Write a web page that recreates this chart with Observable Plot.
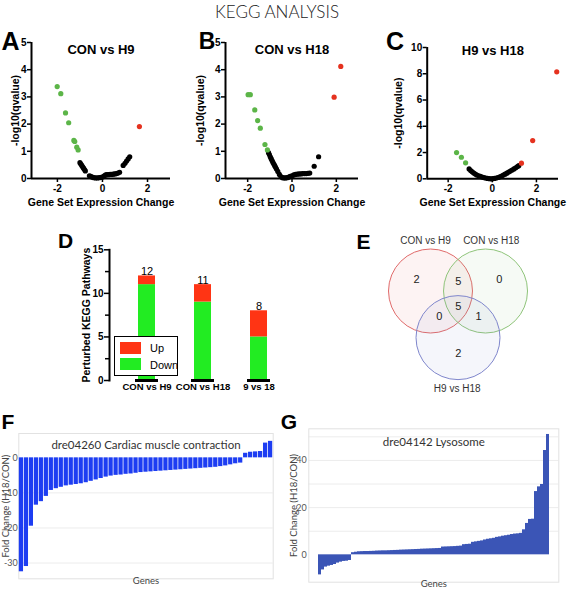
<!DOCTYPE html>
<html><head><meta charset="utf-8">
<script src="https://cdn.jsdelivr.net/npm/d3@7"></script>
<script src="https://cdn.jsdelivr.net/npm/@observablehq/plot@0.6"></script>
<style>
html,body{margin:0;padding:0;background:#fff;}
#root{position:relative;width:567px;height:591px;overflow:hidden;background:#fff;font-family:"Liberation Sans",Arial,sans-serif;}
.letter{position:absolute;font-weight:bold;line-height:1;transform:translate(-50%,-50%);color:#000;}
#title{position:absolute;left:277px;top:11px;transform:translate(-50%,-50%);font-family:Lato,"Open Sans",sans-serif;font-weight:300;font-size:17px;line-height:1;color:#222;white-space:nowrap;}
#legend{position:absolute;left:114px;top:336px;width:62px;height:38px;border:1.5px solid #000;background:#fff;font-size:11px;}
.sw{position:absolute;left:5px;width:21px;height:12px;}
.lt{position:absolute;left:35px;line-height:1;transform:translateY(-50%);}
</style></head><body><div id="root"></div>
<script>
// ---------- DATA ----------
const mainTitle = "KEGG ANALYSIS";
// Panel A: CON vs H9
const aDownX = [-2.01,-1.85,-1.64,-1.50,-1.27,-1.23,-1.14,-1.08];
const aDownY = [3.38,3.12,2.41,2.05,1.40,1.36,1.15,1.05];
const aUpX = [1.64];
const aUpY = [1.91];
const aNsX = [-1.00,-0.96,-0.92,-0.88,-0.84,-0.80,-0.76,-0.58,-0.52,-0.45,-0.38,-0.30,-0.22,-0.14,-0.06,0.02,0.08,0.14,0.20,0.27,0.34,0.41,0.48,0.55,0.62,0.69,0.76,0.92,1.00,1.07,1.14,1.21];
const aNsY = [0.58,0.53,0.48,0.43,0.38,0.33,0.28,0.10,0.08,0.05,0.03,0.02,0.02,0.03,0.04,0.06,0.10,0.13,0.14,0.14,0.15,0.15,0.16,0.17,0.18,0.20,0.23,0.48,0.56,0.64,0.72,0.80];
// Panel B: CON vs H18
const bDownX = [-1.98,-1.88,-1.68,-1.55,-1.43,-1.22,-1.11];
const bDownY = [3.08,3.08,2.52,2.13,1.85,1.25,1.05];
const bUpX = [1.90,2.20];
const bUpY = [2.99,4.12];
const bNsX = [-1.06,-1.02,-0.98,-0.94,-0.90,-0.86,-0.82,-0.78,-0.74,-0.70,-0.64,-0.57,-0.50,-0.43,-0.36,-0.29,-0.22,-0.15,-0.08,0.00,0.08,0.16,0.24,0.32,0.40,0.48,0.56,0.64,0.72,0.80,1.00,1.20];
const bNsY = [0.95,0.88,0.80,0.73,0.66,0.59,0.53,0.47,0.41,0.35,0.26,0.15,0.07,0.03,0.02,0.02,0.03,0.05,0.08,0.10,0.13,0.15,0.16,0.17,0.17,0.18,0.18,0.18,0.19,0.20,0.45,0.80];
// Panel C: H9 vs H18
const cDownX = [-1.62,-1.40,-1.21];
const cDownY = [2.00,1.64,1.22];
const cUpX = [1.32,1.83,2.92];
const cUpY = [1.19,2.91,8.15];
const cNsX = [-1.05,-0.98,-0.91,-0.84,-0.77,-0.70,-0.62,-0.54,-0.46,-0.38,-0.30,-0.22,-0.14,-0.06,0.02,0.10,0.18,0.26,0.34,0.42,0.50,0.58,0.66,0.74,0.82,0.90,0.98,1.06,1.14,1.20];
const cNsY = [0.75,0.63,0.53,0.44,0.36,0.29,0.23,0.18,0.13,0.09,0.06,0.03,0.01,0.00,0.01,0.03,0.06,0.10,0.15,0.21,0.28,0.35,0.43,0.51,0.59,0.67,0.75,0.84,0.93,1.00];
const volcanoXTicks = [-2,0,2];
// Panel D
const dCats = ["CON vs H9","CON vs H18","9 vs 18"];
const dDown = [11,9,5];
const dUp = [1,2,3];
const dTotal = [12,11,8];
const dTicks = [0,5,10,15];
const dMinorTicks = [2.5,7.5,12.5];
// Panel E (Venn)
const vennSets = ["CON vs H9","CON vs H18","H9 vs H18"];
const vennCx = [0,1.31,0.655];
const vennCy = [0,0,1.11];
const vennLabelX = [-0.119,1.445,0.636];
const vennLabelY = [-1.202,-1.202,2.321];
const vennCounts = ["2","5","0","5","0","1","2"];
const vennCountX = [-0.333,0.66,1.636,0.66,0.207,1.143,0.66];
const vennCountY = [-0.274,-0.226,-0.274,0.369,0.607,0.607,1.488];
// Panel F
const fTitle = "dre04260 Cardiac muscle contraction";
const fValues = [-32.5,-31,-19.5,-13.5,-12.5,-11,-9.3,-8.8,-8.4,-8.0,-7.8,-7.6,-7.4,-7.1,-6.7,-6.3,-5.9,-5.5,-5.2,-5.0,-4.9,-4.7,-4.6,-4.4,-4.2,-4.1,-4.0,-3.9,-3.8,-3.7,-3.6,-3.5,-3.4,-3.3,-3.2,-3.1,-3.0,-2.9,-2.8,-2.7,-2.5,-2.3,-2.0,-1.7,-1.5,1.3,1.6,1.7,1.8,4.2,4.7];
const fTicks = [0,-10,-20,-30];
// Panel G
const gTitle = "dre04142 Lysosome";
const gValues = [-8.5,-6.4,-5.2,-4.8,-4.5,-4.1,-3.5,-3.1,-2.8,-2.7,-2.4,
 0.9,1.1,1.3,1.35,1.4,1.4,1.45,1.5,1.6,1.65,1.7,1.7,1.75,1.8,1.85,1.9,
 2.0,2.05,2.1,2.15,2.2,2.25,2.3,2.4,2.45,2.5,2.55,2.6,2.65,2.7,
 3.3,3.35,3.4,3.45,3.5,3.6,3.7,4.3,4.4,4.5,5.3,5.5,5.7,5.9,6.3,6.6,6.8,7.0,
 7.4,7.6,7.9,8.1,8.3,8.6,8.8,8.9,9.1,10.6,13.3,15.0,15.1,26.8,28.8,29.8,44.2,51.0];
const gTicks = [0,20,40];
const gGrid = [10,20,30,40,50];
const yLabelFC = "Fold Change (H18/CON)";

// ---------- HELPERS ----------
const root = document.getElementById("root");
const zip = (xs, ys) => xs.map((x, i) => ({x, y: ys[i]}));
const plain = d => String(d);
function mount(el, left, top) {
  const w = document.createElement("div");
  w.style.cssText = `position:absolute;left:${left}px;top:${top}px;`;
  w.appendChild(el);
  root.appendChild(w);
}
function letter(t, x, y, size) {
  const d = document.createElement("div");
  d.className = "letter";
  d.textContent = t;
  d.style.left = x + "px"; d.style.top = y + "px"; d.style.fontSize = size + "px";
  root.appendChild(d);
}
const GREEN = "#5cb548", RED = "#e5321f";

function volcano(o) {
  return Plot.plot({
    width: o.width, height: o.height,
    marginLeft: o.mL, marginRight: o.mR, marginTop: o.mT, marginBottom: o.mB,
    style: {fontFamily: "Liberation Sans, Arial, sans-serif", fontWeight: "bold", background: "transparent", overflow: "visible", color: "#000"},
    x: {domain: o.xDomain},
    y: {domain: o.yDomain},
    marks: [
      Plot.ruleY([o.yDomain[0]], {strokeWidth: 2}),
      Plot.ruleX([o.xDomain[0]], {strokeWidth: 2}),
      Plot.axisX({ticks: volcanoXTicks, tickFormat: plain, tickSize: 4, tickPadding: 2, fontSize: 10, strokeWidth: 1.5, label: null}),
      Plot.axisY({ticks: o.yTicks, tickFormat: plain, tickSize: 4, tickPadding: 1, fontSize: 10, strokeWidth: 1.5, label: null}),
      Plot.dot(zip(o.nsX, o.nsY), {x: "x", y: "y", r: 2.6, fill: "#000", stroke: null}),
      Plot.dot(zip(o.downX, o.downY), {x: "x", y: "y", r: 2.6, fill: GREEN, stroke: null}),
      Plot.dot(zip(o.upX, o.upY), {x: "x", y: "y", r: 2.6, fill: RED, stroke: null}),
      Plot.text([o.title], {text: d => d, frameAnchor: "top", dy: o.titleDy, fontSize: 13}),
      Plot.text(["Gene Set Expression Change"], {text: d => d, frameAnchor: "bottom", dy: 27, fontSize: 10.5}),
      Plot.text(["-log10(qvalue)"], {text: d => d, frameAnchor: "left", textAnchor: "middle", dx: o.yLabDx, rotate: -90, fontSize: 10.5})
    ]
  });
}

// ---------- TITLE ----------
const t = document.createElement("div");
t.id = "title"; t.textContent = mainTitle; root.appendChild(t);

// ---------- A, B, C ----------
mount(volcano({width: 185, height: 185, mL: 31, mR: 15, mT: 12, mB: 37, xDomain: [-3.15, 3.02], yDomain: [0, 5], yTicks: [0,1,2,3,4,5],
  title: "CON vs H9", titleDy: 2, yLabDx: -16, downX: aDownX, downY: aDownY, upX: aUpX, upY: aUpY, nsX: aNsX, nsY: aNsY}), 0, 30);
mount(volcano({width: 185, height: 185, mL: 35, mR: 17, mT: 12, mB: 37, xDomain: [-3, 3], yDomain: [0, 5], yTicks: [0,1,2,3,4,5],
  title: "CON vs H18", titleDy: 2, yLabDx: -25, downX: bDownX, downY: bDownY, upX: bUpX, upY: bUpY, nsX: bNsX, nsY: bNsY}), 190, 30);
mount(volcano({width: 192, height: 185, mL: 51.7, mR: 9, mT: 17, mB: 36.7, xDomain: [-2.95, 3.0], yDomain: [0, 10], yTicks: [0,2,4,6,8,10],
  title: "H9 vs H18", titleDy: -2, yLabDx: -29, downX: cDownX, downY: cDownY, upX: cUpX, upY: cUpY, nsX: cNsX, nsY: cNsY}), 375, 30);

// ---------- D ----------
const dRows = [];
dCats.forEach((c, i) => dRows.push({cat: c, dir: "Down", n: dDown[i]}));
dCats.forEach((c, i) => dRows.push({cat: c, dir: "Up", n: dUp[i]}));
const dTot = dCats.map((c, i) => ({cat: c, total: dTotal[i], base: 0}));
mount(Plot.plot({
  width: 260, height: 180, marginLeft: 69, marginRight: 4.6, marginTop: 29.3, marginBottom: 20,
  style: {fontFamily: "Liberation Sans, Arial, sans-serif", background: "transparent", overflow: "visible", color: "#000"},
  x: {domain: dCats, paddingInner: 0.7, paddingOuter: 0.5},
  y: {domain: [0, 15]},
  color: {domain: ["Down", "Up"], range: ["#22ec22", "#ff3414"]},
  marks: [
    Plot.barY(dRows, {x: "cat", y: "n", fill: "dir"}),
    Plot.tickY(dTot, {x: "cat", y: "base", strokeWidth: 3, insetLeft: -3, insetRight: -3}),
    Plot.frame({anchor: "left", strokeWidth: 2}),
    Plot.axisY({ticks: dTicks, tickFormat: plain, tickSize: 5, tickPadding: 1, fontSize: 10, fontWeight: "bold", strokeWidth: 1.5, label: null}),
    Plot.axisY({ticks: dMinorTicks, tickSize: 4, tickFormat: () => "", strokeWidth: 1.5, label: null}),
    Plot.axisX({tickSize: 0, tickPadding: 3, fontSize: 9.5, fontWeight: "bold", label: null}),
    Plot.text(dTot, {x: "cat", y: "total", text: d => String(d.total), lineAnchor: "bottom", dy: -0.5, fontSize: 11}),
    Plot.text(["Perturbed KEGG Pathways"], {text: d => d, frameAnchor: "left", textAnchor: "middle", dx: -23, rotate: -90, fontSize: 10.5, fontWeight: "bold"})
  ]
}), 40, 220);

// legend for D
const lg = document.createElement("div");
lg.id = "legend";
lg.innerHTML = `<div class="sw" style="top:5px;background:#ff3414"></div><div class="lt" style="top:11px">Up</div>
<div class="sw" style="top:21px;background:#22ec22"></div><div class="lt" style="top:28px">Down</div>`;
root.appendChild(lg);

// ---------- E (Venn) ----------
const vennColors = ["#e06a6a", "#8fc47a", "#7f86cc"];
const vCircles = vennSets.map((s, i) => ({set: s, x: vennCx[i], y: vennCy[i], c: vennColors[i]}));
const U = 42; // pixels per unit radius
mount(Plot.plot({
  width: 180, height: 175, margin: 0,
  style: {fontFamily: "Liberation Sans, Arial, sans-serif", background: "transparent", overflow: "visible", color: "#222"},
  x: {domain: [-60 / U, 120 / U], axis: null},
  y: {domain: [-65.5 / U, 109.5 / U], reverse: true, axis: null},
  marks: [
    Plot.dot(vCircles, {x: "x", y: "y", r: U, fill: "c", fillOpacity: 0.08, stroke: "c", strokeWidth: 1}),
    Plot.text(vennSets, {x: (d, i) => vennLabelX[i], y: (d, i) => vennLabelY[i], text: d => d, fontSize: 10, fill: "#333"}),
    Plot.text(vennCounts, {x: (d, i) => vennCountX[i], y: (d, i) => vennCountY[i], text: d => d, fontSize: 11, fill: "#222"})
  ]
}), 370, 225);

// ---------- F / G ----------
function fcBars(o) {
  const rows = o.values.map((v, i) => ({i, v}));
  return Plot.plot({
    width: o.width, height: o.height, marginLeft: o.mL, marginRight: o.mR, marginTop: o.mT, marginBottom: o.mB,
    style: {fontFamily: "Lato, 'Open Sans', sans-serif", background: "transparent", overflow: "visible", color: "#444"},
    x: {type: "band", domain: d3.range(o.values.length), paddingInner: o.pad, paddingOuter: 0.1, axis: null},
    y: {domain: o.yDomain},
    marks: [
      Plot.ruleY(o.grid, {stroke: "#ececec", strokeWidth: 1}),
      Plot.frame({stroke: "#e2e2e2"}),
      Plot.barY(rows, {x: "i", y1: 0, y2: "v", fill: o.color}),
      Plot.axisY({ticks: o.ticks, tickFormat: plain, tickSize: 0, tickPadding: o.tp, fontSize: 9, fill: "#555", label: null}),
      Plot.text([o.title], {text: d => d, frameAnchor: "top", dy: o.titleDy, fontSize: 11.5, fill: "#333"}),
      Plot.text(["Genes"], {text: d => d, frameAnchor: "bottom", dy: 5, fontSize: 9.5, fill: "#444"}),
      Plot.text([yLabelFC], {text: d => d, frameAnchor: "left", textAnchor: "middle", dx: o.yLabDx, rotate: -90, fontSize: 9.5, fill: "#444"})
    ]
  });
}
mount(fcBars({width: 280, height: 186, mL: 18.3, mR: 7.3, mT: 28, mB: 12.7, values: fValues, yDomain: [-34.5, 6.94],
  ticks: fTicks, grid: [-10, -20, -30], color: "#1d3df2", pad: 0.15, tp: 1, title: fTitle, titleDy: 7, yLabDx: -13}), 0, 405);
mount(fcBars({width: 282, height: 186, mL: 23.3, mR: 8.7, mT: 23.3, mB: 9.3, values: gValues, yDomain: [-11.6, 53.4],
  ticks: gTicks, grid: gGrid, color: "#3b55b6", pad: 0.12, tp: 2, title: gTitle, titleDy: 8.7, yLabDx: -15}), 285, 405);

// ---------- LETTERS ----------
letter("A", 10.5, 40.5, 25);
letter("B", 207, 40.5, 23);
letter("C", 395, 40.5, 25);
letter("D", 65.5, 240, 21);
letter("E", 363.5, 240.5, 21);
letter("F", 8, 420.5, 21);
letter("G", 289, 420.5, 21);
</script></body></html>
